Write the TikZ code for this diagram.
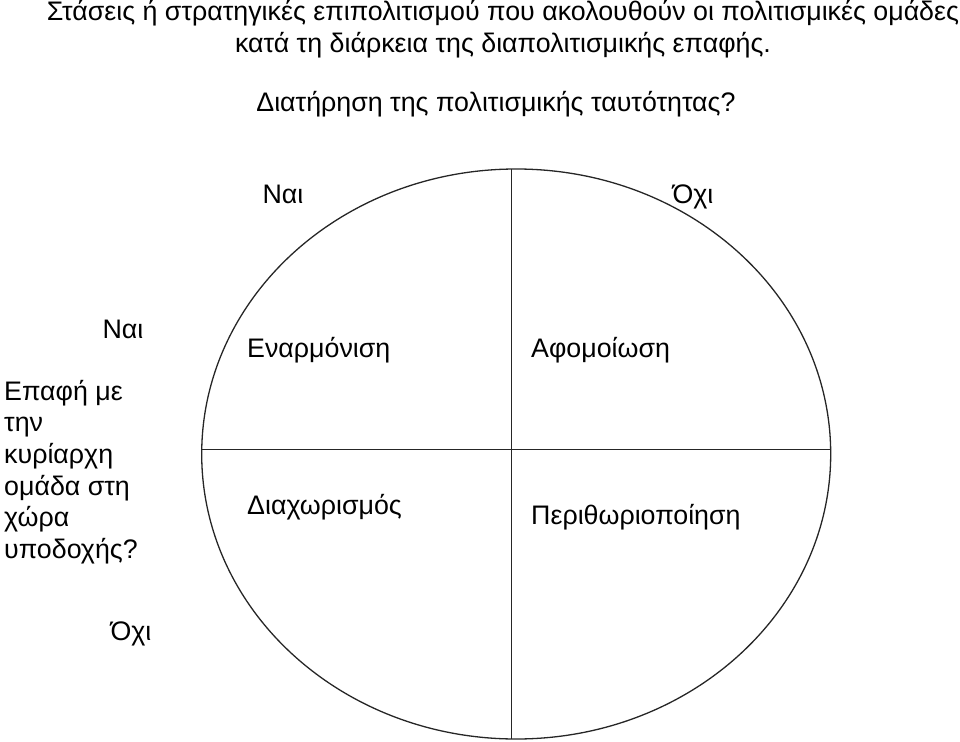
\documentclass[tikz,border=0pt]{standalone}
\usepackage{fontspec}
\setmainfont{Liberation Sans}
\begin{document}
\begin{tikzpicture}[x=1pt,y=-1pt,
    keimeno/.style={inner sep=0pt, font=\fontsize{26.8}{31.7}\selectfont},
    grammi/.style={line width=1.3pt, black!85}]
    \useasboundingbox (0,0) rectangle (960,741);

    % Τίτλος
    \node[keimeno, align=center, anchor=base] (titlos) at (503,52.7) {Στάσεις ή στρατηγικές επιπολιτισμού που ακολουθούν οι πολιτισμικές ομάδες\\κατά τη διάρκεια της διαπολιτισμικής επαφής.};
    \node[keimeno, anchor=base] (erotisi1) at (496,112) {Διατήρηση της πολιτισμικής ταυτότητας?};

    % Έλλειψη και άξονες
    \draw[grammi] (516.2,454) ellipse [x radius=314.5pt, y radius=285pt];
    \coordinate (pano) at (511.7,169);
    \coordinate (kato) at (511.7,739);
    \coordinate (aristera) at (201.7,449.3);
    \coordinate (dexia) at (830.7,449.3);
    \draw[grammi] (pano) -- (kato);
    \draw[grammi] (aristera) -- (dexia);

    % Απαντήσεις
    \node[keimeno, anchor=base] (nai1) at (283,203) {Ναι};
    \node[keimeno, anchor=base] (ochi1) at (693,203) {Όχι};
    \node[keimeno, anchor=base] (nai2) at (123,338) {Ναι};
    \node[keimeno, anchor=base] (ochi2) at (131,640) {Όχι};
    \node[keimeno, align=left, anchor=base west] (erotisi2) at (4,558.5) {Επαφή με\\την\\κυρίαρχη\\ομάδα στη\\χώρα\\υποδοχής?};

    % Στρατηγικές
    \node[keimeno, anchor=base west] (enarmonisi) at (247,357) {Εναρμόνιση};
    \node[keimeno, anchor=base west] (afomoiosi) at (531,357) {Αφομοίωση};
    \node[keimeno, anchor=base west] (diachorismos) at (247,514) {Διαχωρισμός};
    \node[keimeno, anchor=base west] (perithoriopoiisi) at (531,524) {Περιθωριοποίηση};
\end{tikzpicture}
\end{document}
